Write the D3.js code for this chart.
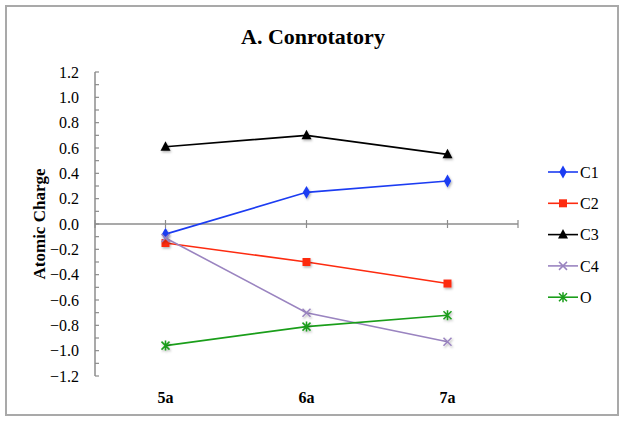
<!DOCTYPE html>
<html>
<head>
<meta charset="utf-8">
<script src="https://cdn.jsdelivr.net/npm/d3@7"></script>
<style>
  body { margin: 0; background: #fff; }
</style>
</head>
<body>
<div class="canva"></div>
<script>
// data
const categories = ["5a", "6a", "7a"];
const seriesNames = ["C1", "C2", "C3", "C4", "O"];
const c1Values = [-0.08, 0.25, 0.34];
const c2Values = [-0.15, -0.30, -0.47];
const c3Values = [0.61, 0.70, 0.55];
const c4Values = [-0.11, -0.70, -0.93];
const oValues = [-0.96, -0.81, -0.72];
const yTicks = [1.2, 1.0, 0.8, 0.6, 0.4, 0.2, 0.0, -0.2, -0.4, -0.6, -0.8, -1.0, -1.2];

const seriesValues = [c1Values, c2Values, c3Values, c4Values, oValues];
const seriesColors = ["#1c3cf2", "#fd2b10", "#000000", "#9a84c0", "#1a9e1a"];
const seriesShapes = ["diamond", "square", "triangle", "x", "star"];

const fontFam = "'Liberation Serif', 'Times New Roman', serif";

const canvas = d3.select(".canva");

const svg = canvas.append("svg")
            .attr("width", 626)
            .attr("height", 424)
            .attr("font-family", fontFam);

// outer frame
svg.append("rect")
   .attr("x", 6).attr("y", 6)
   .attr("width", 612).attr("height", 409)
   .attr("fill", "#fff")
   .attr("stroke", "#a9a9a9")
   .attr("stroke-width", 2);

// drop shadow for markers
const defs = svg.append("defs");
const filter = defs.append("filter").attr("id", "shadow")
    .attr("x", "-50%").attr("y", "-50%").attr("width", "200%").attr("height", "200%");
filter.append("feDropShadow")
    .attr("dx", 1).attr("dy", 1.5).attr("stdDeviation", 1)
    .attr("flood-color", "#000").attr("flood-opacity", 0.3);

const x = d3.scalePoint()
            .domain(categories)
            .range([95, 518])
            .padding(0.5);

const y = d3.scaleLinear()
            .domain([-1.2, 1.2])
            .range([376, 72]);

// title
svg.append("text")
   .attr("x", 313).attr("y", 44)
   .attr("text-anchor", "middle")
   .attr("font-family", fontFam)
   .attr("font-size", 22)
   .attr("font-weight", "bold")
   .text("A. Conrotatory");

// y axis
const axisColor = "#8c8c8c";
const yAxisG = svg.append("g");
yAxisG.append("line")
      .attr("x1", 95).attr("x2", 95)
      .attr("y1", y(1.2)).attr("y2", y(-1.2))
      .attr("stroke", axisColor).attr("stroke-width", 1.5);

// minor + major ticks every 0.1
const tickVals = d3.range(-12, 13).map(d => d / 10);
yAxisG.selectAll(".ytick")
      .data(tickVals)
      .enter()
      .append("line")
      .attr("x1", 95).attr("x2", 99)
      .attr("y1", d => y(d)).attr("y2", d => y(d))
      .attr("stroke", axisColor).attr("stroke-width", 1.2);

yAxisG.selectAll(".ylabel")
      .data(yTicks)
      .enter()
      .append("text")
      .attr("x", 79)
      .attr("y", d => y(d))
      .attr("dy", "0.35em")
      .attr("text-anchor", "end")
      .attr("font-family", fontFam)
      .attr("font-size", 16)
      .text(d => d3.format(".1f")(d));

svg.append("text")
   .attr("transform", `translate(45, ${y(0)}) rotate(-90)`)
   .attr("text-anchor", "middle")
   .attr("font-family", fontFam)
   .attr("font-size", 17)
   .attr("font-weight", "bold")
   .text("Atomic Charge");

// x axis on zero line
const xAxisG = svg.append("g");
xAxisG.append("line")
      .attr("x1", 95).attr("x2", 518)
      .attr("y1", y(0)).attr("y2", y(0))
      .attr("stroke", axisColor).attr("stroke-width", 1.5);

const xTickPos = [95].concat(categories.map(d => x(d))).concat([518]);
xAxisG.selectAll(".xtick")
      .data(xTickPos)
      .enter()
      .append("line")
      .attr("x1", d => d).attr("x2", d => d)
      .attr("y1", y(0) - 4).attr("y2", y(0) + 4)
      .attr("stroke", axisColor).attr("stroke-width", 1.2);

xAxisG.selectAll(".xlabel")
      .data(categories)
      .enter()
      .append("text")
      .attr("x", d => x(d))
      .attr("y", 403)
      .attr("text-anchor", "middle")
      .attr("font-family", fontFam)
      .attr("font-size", 16)
      .attr("font-weight", "bold")
      .text(d => d);

// marker drawing
function drawMarker(g, shape, color) {
  if (shape === "diamond") {
    g.append("path").attr("d", d3.symbol(d3.symbolDiamond, 48)())
     .attr("fill", color);
  } else if (shape === "square") {
    g.append("rect").attr("x", -4).attr("y", -4).attr("width", 8).attr("height", 8)
     .attr("fill", color);
  } else if (shape === "triangle") {
    g.append("path").attr("d", "M0,-5.5L5,4L-5,4Z").attr("fill", color);
  } else if (shape === "x") {
    g.append("path").attr("d", "M-4,-4L4,4M-4,4L4,-4")
     .attr("stroke", color).attr("stroke-width", 1.5).attr("fill", "none");
  } else {
    g.append("path").attr("d", "M-4,-4L4,4M-4,4L4,-4M0,-5L0,5")
     .attr("stroke", color).attr("stroke-width", 1.5).attr("fill", "none");
  }
}

const line = d3.line()
               .x((d, i) => x(categories[i]))
               .y(d => y(d));

const plot = svg.append("g");

seriesValues.forEach(function(vals, s) {
  plot.append("path")
      .datum(vals)
      .attr("d", line)
      .attr("fill", "none")
      .attr("stroke", seriesColors[s])
      .attr("stroke-width", 1.6);

  vals.forEach(function(v, i) {
    const m = plot.append("g")
                  .attr("transform", `translate(${x(categories[i])},${y(v)})`)
                  .attr("filter", "url(#shadow)");
    drawMarker(m, seriesShapes[s], seriesColors[s]);
  });
});

// legend
const legendGroup = svg.append("g")
              .attr("transform", "translate(548, 172)");

seriesNames.forEach(function(name, i) {
  const row = legendGroup.append("g")
                .attr("transform", `translate(0, ${i * 31.3})`);
  row.append("line")
     .attr("x1", 0).attr("x2", 30)
     .attr("stroke", seriesColors[i]).attr("stroke-width", 1.6);
  const m = row.append("g").attr("transform", "translate(15,0)");
  drawMarker(m, seriesShapes[i], seriesColors[i]);
  row.append("text")
     .attr("x", 32)
     .attr("dy", "0.35em")
     .attr("font-family", fontFam)
     .attr("font-size", 16)
     .text(name);
});
</script>
</body>
</html>
